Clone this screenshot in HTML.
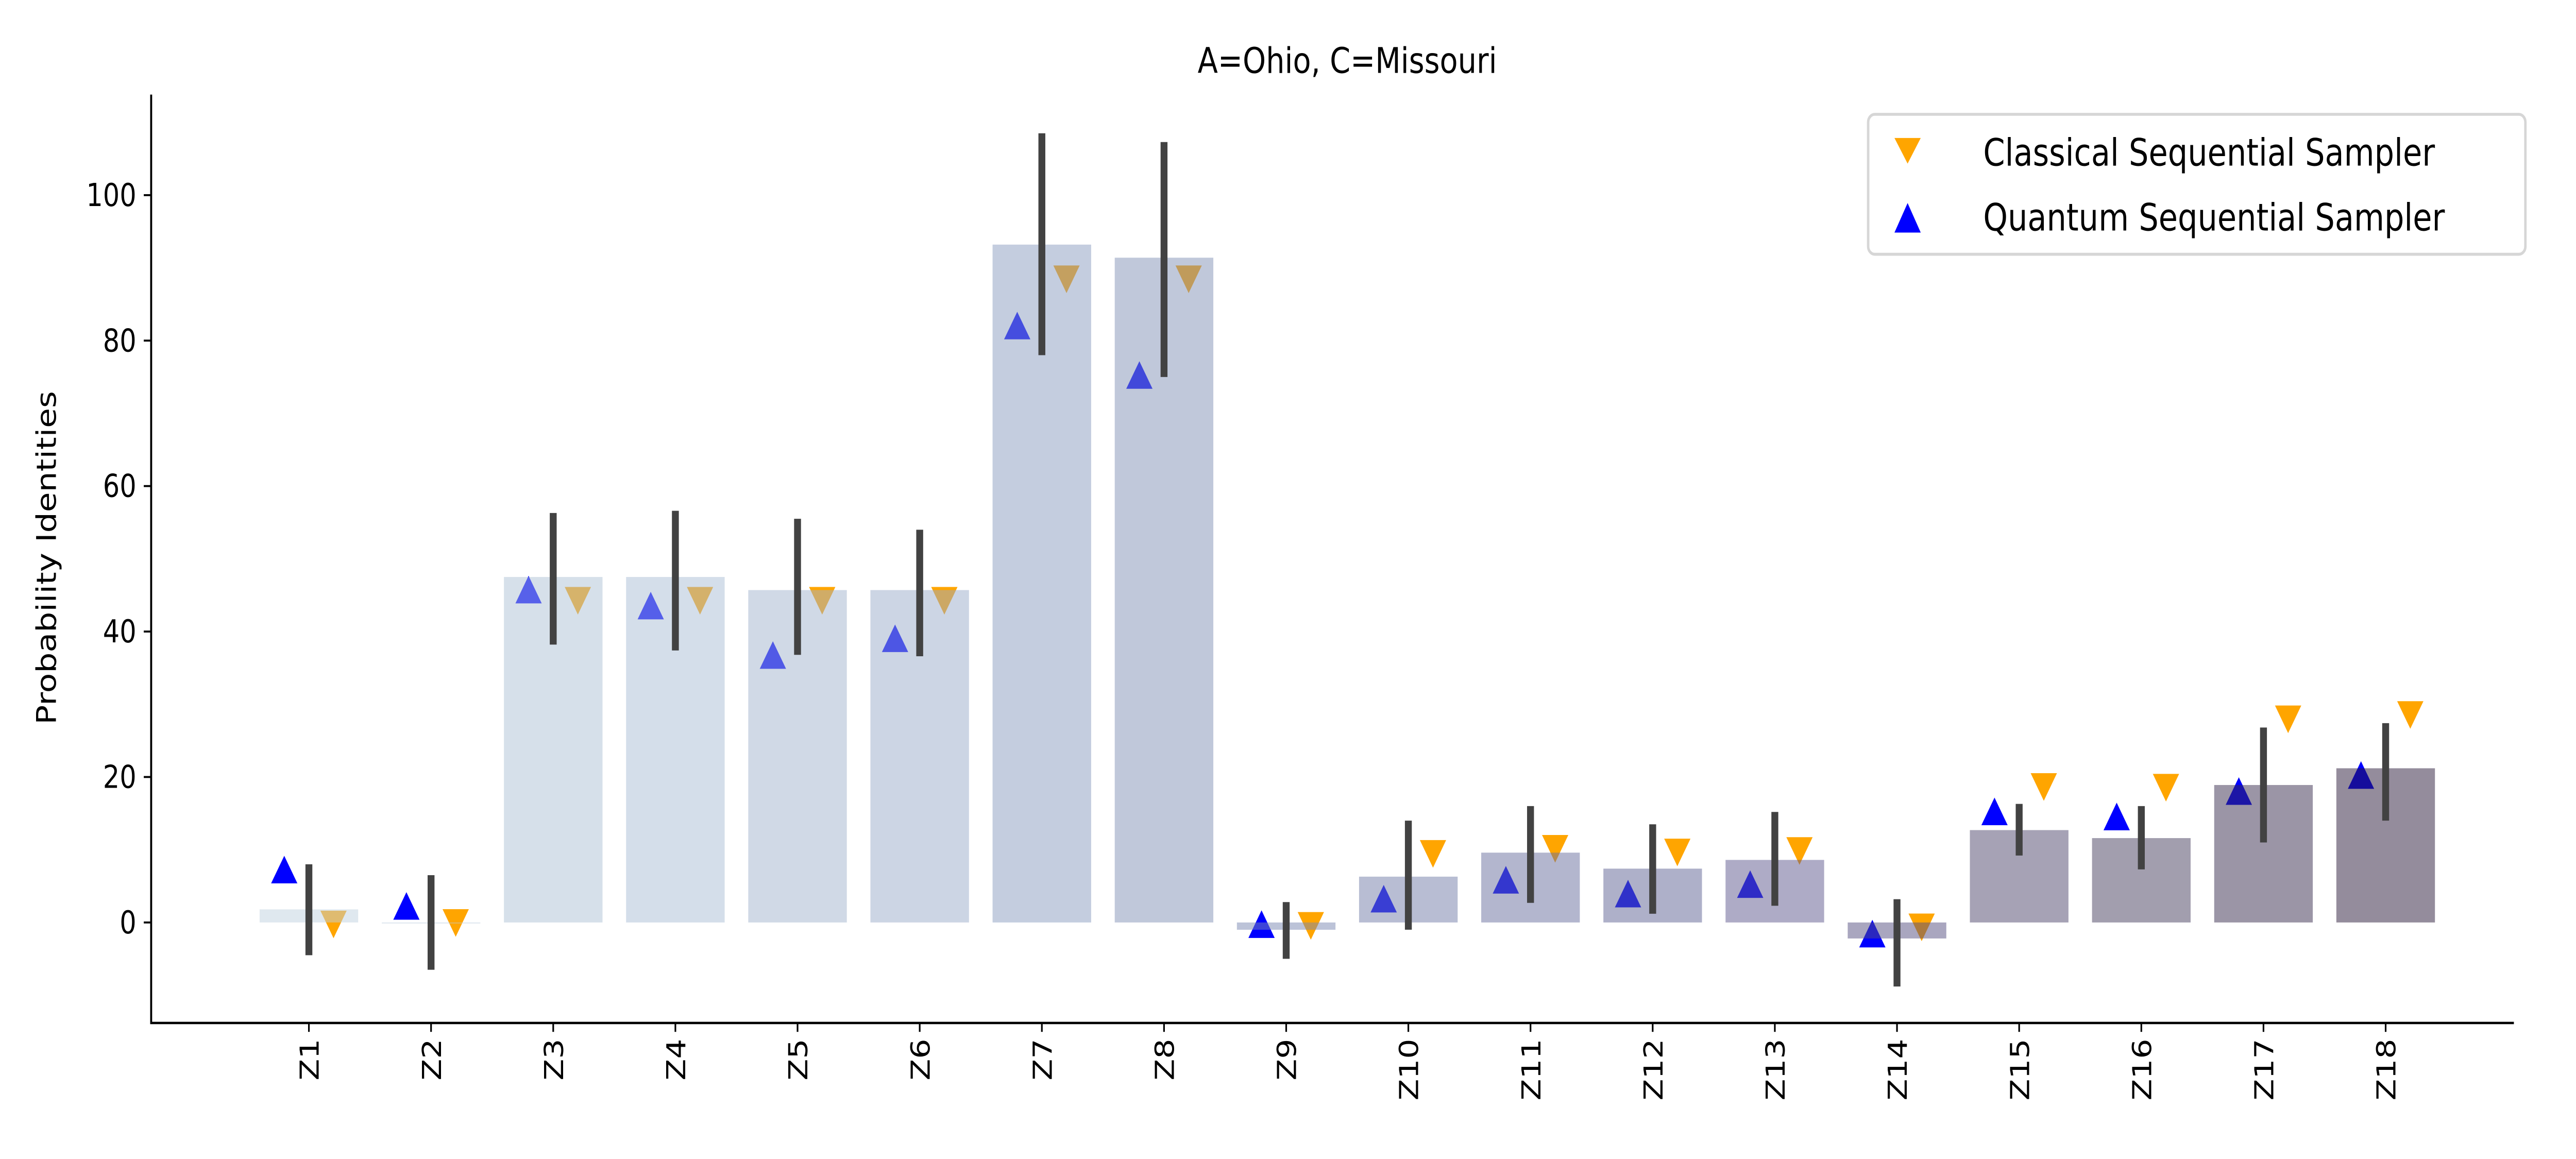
<!DOCTYPE html>
<html><head><meta charset="utf-8"><style>
html,body{margin:0;padding:0;background:#fff;width:100%;height:100%;overflow:hidden;}
svg{display:block;width:100vw;height:100vh;font-family:"DejaVu Sans","Liberation Sans",sans-serif;}
</style></head><body>
<svg id="chart" xmlns="http://www.w3.org/2000/svg" viewBox="0 0 1567.8 588" preserveAspectRatio="none">
<rect width="1567.8" height="588" fill="#fff"/>
<text x="820" y="37" font-size="18" text-anchor="middle">A=Ohio, C=Missouri</text>
<g id="markers"></g>
<g id="bars"></g>
<g id="errs"></g>
<g id="axes"></g>
<g>
<rect x="1137" y="58" width="400" height="71" rx="4" fill="#fff" stroke="#d6d6d6" stroke-width="1.5"/>
<path d="M1153,70 L1169,70 L1161,83 Z" fill="#ffa500"/>
<text x="1207" y="84" font-size="19">Classical Sequential Sampler</text>
<path d="M1153,118 L1169,118 L1161,103 Z" fill="#0000ff"/>
<text x="1207" y="117" font-size="19">Quantum Sequential Sampler</text>
</g>
<script>
const categories=["Z1","Z2","Z3","Z4","Z5","Z6","Z7","Z8","Z9","Z10","Z11","Z12","Z13","Z14","Z15","Z16","Z17","Z18"];
const barValues=[1.8,0,47.5,47.5,45.7,45.7,93.2,91.4,-1,6.3,9.6,7.4,8.6,-2.2,12.7,11.6,18.9,21.2];
const errHigh=[8,6.5,56.3,56.6,55.5,54,108.5,107.3,2.8,14,16,13.5,15.2,3.2,16.3,16,26.8,27.4];
const errLow=[-4.5,-6.5,38.2,37.4,36.8,36.6,78,75,-5,-1,2.7,1.2,2.3,-8.8,9.2,7.3,11,14];
const quantumValues=[7,2,45.5,43.3,36.5,38.8,81.8,75,-0.5,3,5.6,3.7,5,-1.8,15,14.3,17.8,20];
const classicalValues=[0,0.2,44.5,44.5,44.5,44.5,88.7,88.7,-0.2,9.7,10.4,9.9,10.1,-0.4,18.9,18.8,28.2,28.8];
const yTicks=[0,20,40,60,80,100];
const barColors=[[223,232,239],[221,230,238],[214,224,234],[212,222,234],[208,217,230],[204,213,228],[196,205,223],[192,200,218],[188,195,216],[184,189,211],[179,182,206],[174,176,201],[174,171,198],[169,166,191],[166,162,181],[162,158,174],[155,149,166],[148,140,156]];
const NS="http://www.w3.org/2000/svg";
const A=0.5;
function y(v){return 468-v*3.69;}
function x(i){return 188+i*74.35;}
function base(c){return "rgb("+c.map(v=>Math.max(0,Math.round((v-255*(1-A))/A))).join(",")+")";}
function mk(tag,attrs,parent){const e=document.createElementNS(NS,tag);for(const k in attrs)e.setAttribute(k,attrs[k]);document.getElementById(parent).appendChild(e);return e;}
const bw=60;
categories.forEach((c,i)=>{
  const cx=x(i);
  const q=mk("path",{d:`M${cx-23},${y(quantumValues[i])+6} L${cx-7},${y(quantumValues[i])+6} L${cx-15},${y(quantumValues[i])-8} Z`,fill:"#0000ff"},"markers");
  
  
  const cl=mk("path",{d:`M${cx+7},${y(classicalValues[i])-6} L${cx+23},${y(classicalValues[i])-6} L${cx+15},${y(classicalValues[i])+8} Z`,fill:"#ffa500"},"markers");
  
  
  const v=barValues[i];
  const b=mk("rect",{x:cx-bw/2,y:Math.min(y(v),y(0)),width:bw,height:Math.max(Math.abs(y(v)-y(0)),0.5),fill:base(barColors[i]),"fill-opacity":A},"bars");
  
  
  const e=mk("line",{x1:cx,x2:cx,y1:y(errHigh[i]),y2:y(errLow[i]),stroke:"#424242","stroke-width":4.2},"errs");
  
  
  const t=mk("line",{x1:cx,x2:cx,y1:519,y2:523.5,stroke:"#000","stroke-width":1},"axes");
  
  
  const tl=mk("text",{x:0,y:0,"font-size":16,"text-anchor":"end",transform:`translate(${cx+6},527) rotate(-90)`},"axes");
  tl.textContent=c;
  
  
});
yTicks.forEach(v=>{
  const t=mk("line",{x1:87.5,x2:92,y1:y(v),y2:y(v),stroke:"#000","stroke-width":1},"axes");
  
  
  const tl=mk("text",{x:83,y:y(v)+5.5,"font-size":16,"text-anchor":"end"},"axes");
  tl.textContent=v;
  
  
});
const ys=mk("line",{x1:92,x2:92,y1:48,y2:519,stroke:"#000","stroke-width":1.2},"axes");


const xs=mk("line",{x1:91.4,x2:1530,y1:519,y2:519,stroke:"#000","stroke-width":1.2},"axes");


const yt=mk("text",{x:0,y:0,"font-size":16.5,"text-anchor":"middle",transform:"translate(34,283) rotate(-90)"},"axes");
yt.textContent="Probability Identities";


</script>
</svg>
</body></html>
